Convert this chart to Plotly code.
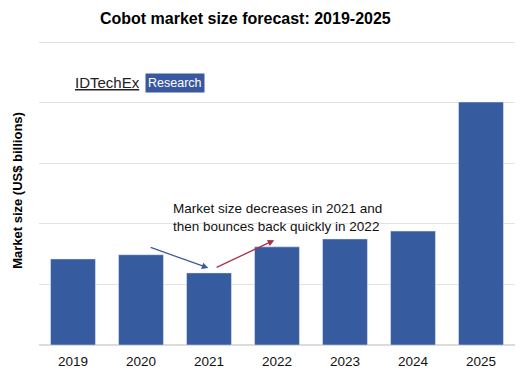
import plotly.graph_objects as go

years = [2019, 2020, 2021, 2022, 2023, 2024, 2025]
year_labels = ["2019", "2020", "2021", "2022", "2023", "2024", "2025"]
market_size = [1.42, 1.49, 1.19, 1.62, 1.75, 1.88, 4.01]

BAR = "#365b9e"
FONT = "Liberation Sans, Arial, sans-serif"

fig = go.Figure(go.Bar(x=years, y=market_size, marker_color=BAR, width=0.66))

fig.update_layout(
    width=522, height=372,
    margin=dict(l=39, r=7, t=36, b=27, autoexpand=False),
    paper_bgcolor="white", plot_bgcolor="white",
    font=dict(family=FONT, color="#111111", size=13),
    showlegend=False,
    title=dict(text="<b>Cobot market size forecast: 2019-2025</b>", x=0.47, xanchor="center",
               y=0.95, yanchor="middle", font=dict(size=16, color="#000000")),
)
fig.update_xaxes(tickmode="array", tickvals=years, ticktext=year_labels, automargin=False,
                 range=[2018.5, 2025.5], showgrid=False, showline=False, ticks="",
                 ticklabelstandoff=6, tickfont=dict(size=13.5))
fig.update_yaxes(range=[0, 5.1], dtick=1, showticklabels=False, showgrid=True, automargin=False,
                 gridcolor="#e2e2e2", gridwidth=1, zeroline=True, zerolinecolor="#dcdcdc",
                 title=dict(text="<b>Market size (US$ billions)</b>", font=dict(size=13, color="#000000"),
                            standoff=12))

# logo
fig.add_annotation(xref="paper", yref="paper", x=0.072, y=0.848, xanchor="left", yanchor="middle",
                   text="<u>IDTechEx</u>", showarrow=False, font=dict(size=15, color="#222222"))
fig.add_annotation(xref="paper", yref="paper", x=0.222, y=0.848, xanchor="left", yanchor="middle",
                   text="Research", showarrow=False, bgcolor="#3a58a0",
                   font=dict(size=12.5, color="white"), borderpad=2)

# text annotation
fig.add_annotation(xref="x", yref="y", x=2020.44, y=2.1, xanchor="left", yanchor="middle",
                   align="left", showarrow=False,
                   text="Market size decreases in 2021 and<br>then bounces back quickly in 2022",
                   font=dict(size=13.5, color="#111111"))

# arrows
fig.add_annotation(xref="x", yref="y", axref="x", ayref="y",
                   x=2020.99, y=1.27, ax=2020.12, ay=1.62, text="", showarrow=True,
                   arrowhead=2, arrowsize=1, arrowwidth=1.3, arrowcolor="#3b5c9c")
fig.add_annotation(xref="x", yref="y", axref="x", ayref="y",
                   x=2021.96, y=1.73, ax=2021.09, ay=1.27, text="", showarrow=True,
                   arrowhead=2, arrowsize=1, arrowwidth=1.3, arrowcolor="#a83248")

fig.write_html("out.html", config={"displayModeBar": False},
               post_script="document.body.style.margin='0';")
